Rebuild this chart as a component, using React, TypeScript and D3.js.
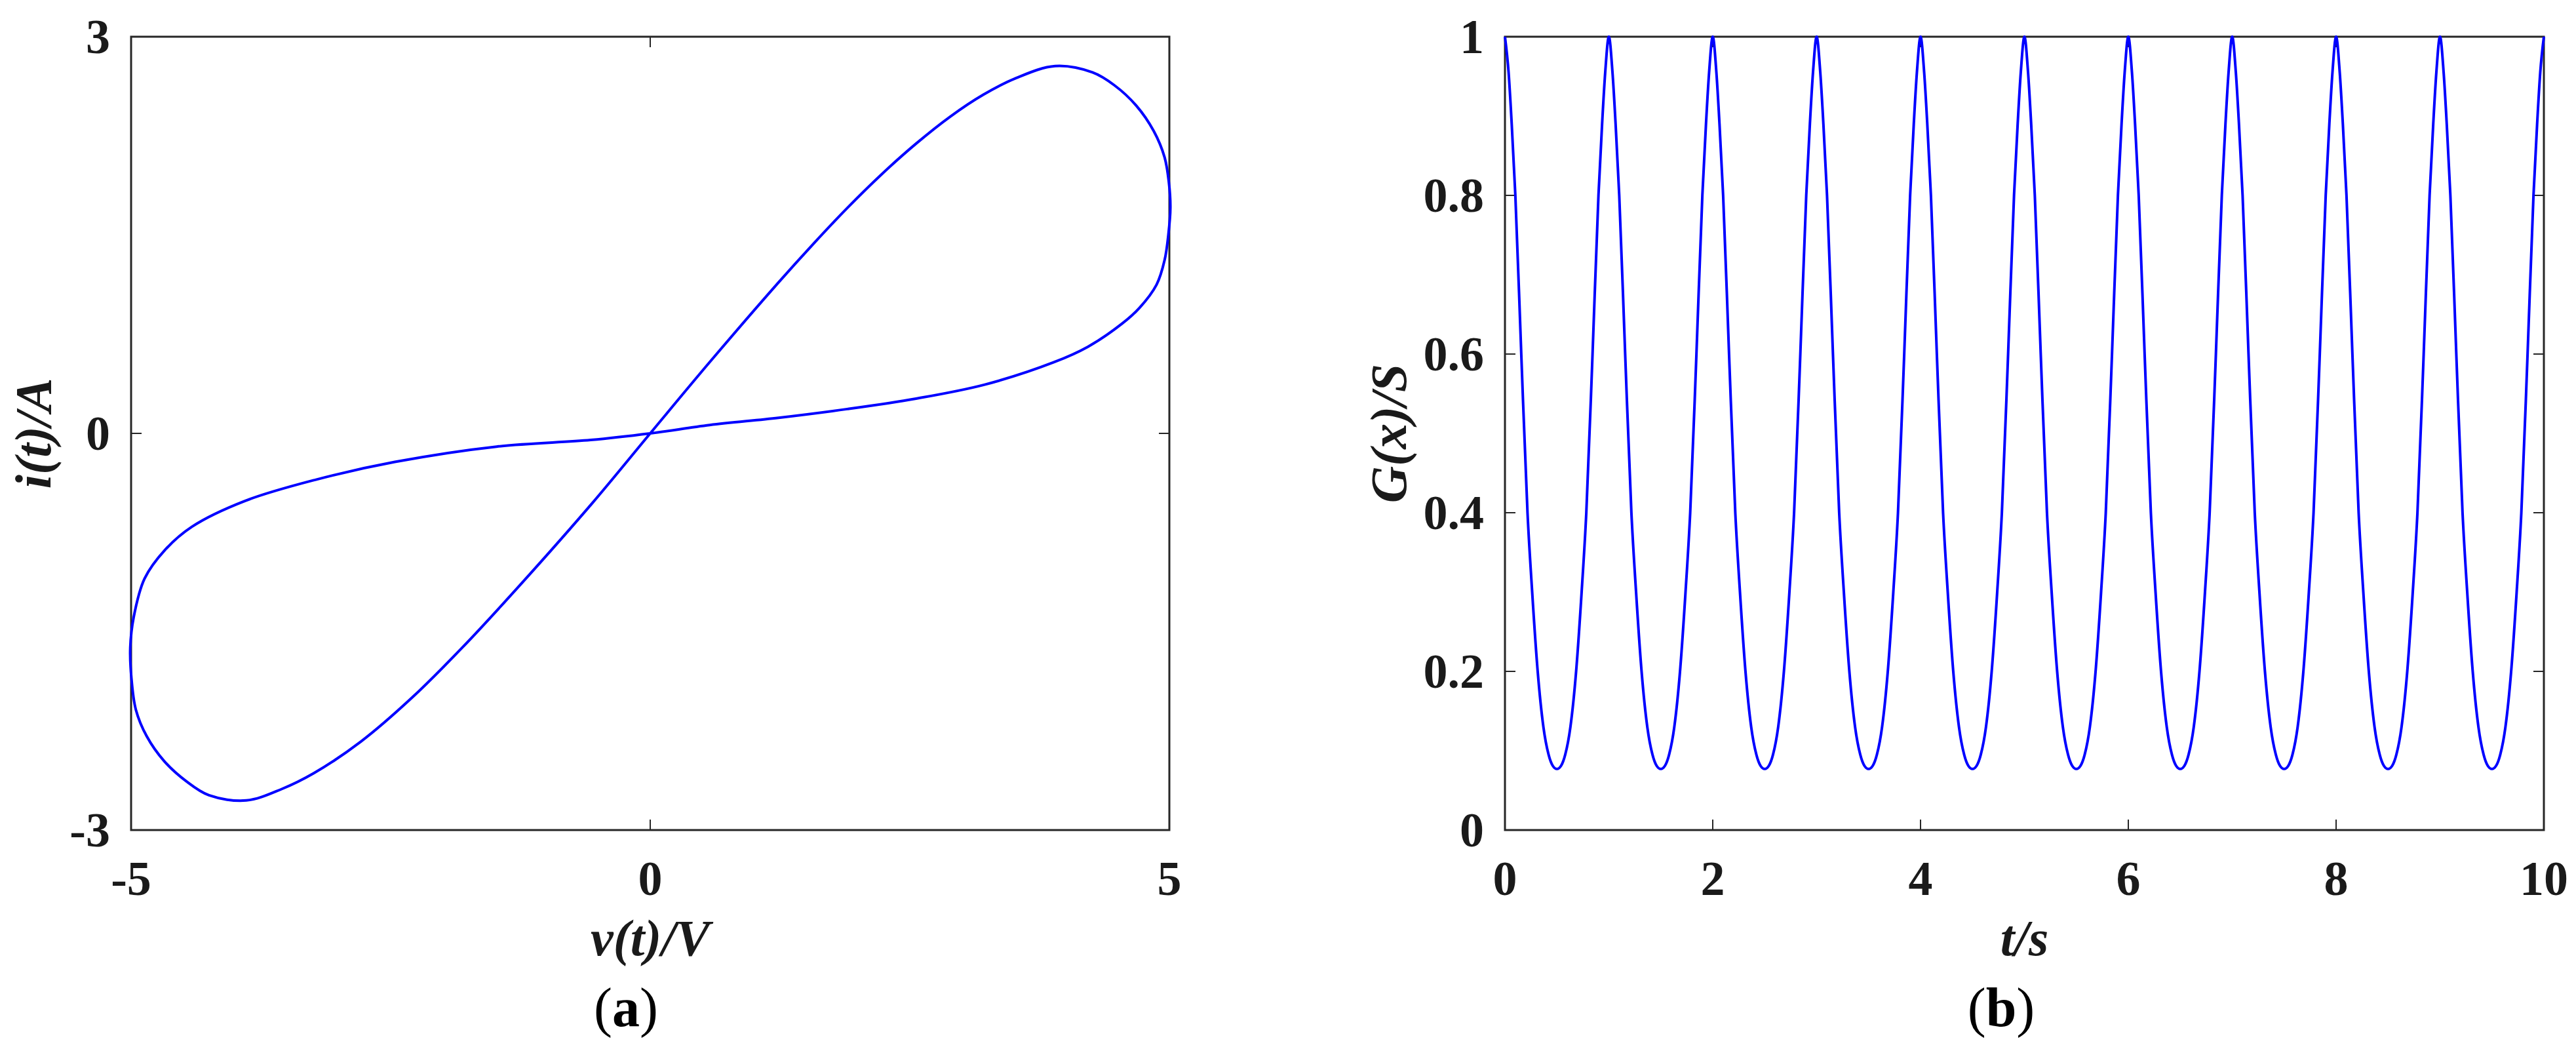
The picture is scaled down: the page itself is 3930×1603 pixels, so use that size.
import React from "react";
import * as d3 from "d3";

// (a) pinched hysteresis loop as [v, i]
// right lobe: up the steep branch, round the end, back on the shallow branch
const rightLobe: [number, number][] = [
  [0, 0], [0.573, 0.539], [1.235, 1.141], [1.566, 1.429], [1.897, 1.704], [2.228, 1.959],
  [2.56, 2.191], [2.89, 2.396], [3.207, 2.561], [3.523, 2.687], [3.9, 2.778], [4.26, 2.73],
  [4.47, 2.633], [4.68, 2.48], [4.85, 2.286], [4.954, 2.088], [4.995, 1.9], [5.01, 1.71],
  [4.99, 1.5], [4.954, 1.31], [4.877, 1.125], [4.712, 0.949], [4.546, 0.831], [4.215, 0.655],
  [3.884, 0.537], [3.222, 0.369], [2.56, 0.263], [1.897, 0.184], [1.235, 0.118],
  [0.573, 0.063],
];
// left lobe: out on the shallow branch, round the end, back on the steep branch
const leftLobe: [number, number][] = [
  [0, 0], [-0.573, -0.05], [-1.48, -0.1], [-2.46, -0.216], [-3.22, -0.35], [-3.9, -0.51],
  [-4.414, -0.706], [-4.674, -0.882], [-4.87, -1.098], [-4.975, -1.39], [-5.008, -1.62],
  [-4.998, -1.84], [-4.954, -2.09], [-4.85, -2.29], [-4.68, -2.48], [-4.47, -2.63],
  [-4.25, -2.737], [-3.89, -2.776], [-3.55, -2.69], [-3.24, -2.57], [-2.785, -2.33],
  [-2.296, -2.0], [-1.81, -1.62], [-1.24, -1.135], [-0.55, -0.52],
];

// (b) G(x): one cycle, repeated every second
const gCycleStarts = [0, 1, 2, 3, 4, 5, 6, 7, 8, 9];
const gShapeOffset = [0, 0.035, 0.065, 0.1, 0.157, 0.217, 0.262, 0.315, 0.37, 0.42, 0.46, 0.5,
  0.54, 0.58, 0.63, 0.685, 0.738, 0.783, 0.843, 0.9, 0.935, 0.965];
const gShapeValue = [1, 0.955, 0.89, 0.8, 0.6, 0.4, 0.3, 0.2, 0.13, 0.095, 0.081, 0.077,
  0.081, 0.095, 0.13, 0.2, 0.3, 0.4, 0.6, 0.8, 0.89, 0.955];
const gEnd: [number, number] = [10, 1];

const xTicksA = [-5, 0, 5];
const yTicksA = [-3, 0, 3];
const xTicksB = [0, 2, 4, 6, 8, 10];
const yTicksB = [0, 0.2, 0.4, 0.6, 0.8, 1];

const W = 3930;
const H = 1603;
const TOP = 56;
const BOTTOM = 1266;
const AXIS = "#262626";
const BLUE = "#0000ff";
const SERIF = "'Liberation Serif', 'Times New Roman', serif";

const gSeries: [number, number][] = [];
gCycleStarts.forEach((c) =>
  gShapeOffset.forEach((o, k) => gSeries.push([c + o, gShapeValue[k]]))
);
gSeries.push(gEnd);

type PanelProps = {
  x0: number;
  x1: number;
  xDomain: [number, number];
  yDomain: [number, number];
  xTicks: number[];
  yTicks: number[];
  xLabel: string;
  yLabel: string;
  yLabelX: number;
  caption: string;
  captionX: number;
  data: [number, number][];
  curve: d3.CurveFactory;
};

const Panel = (p: PanelProps) => {
  const x = d3.scaleLinear().domain(p.xDomain).range([p.x0, p.x1]);
  const y = d3.scaleLinear().domain(p.yDomain).range([BOTTOM, TOP]);
  const line = d3
    .line<[number, number]>()
    .x((d) => x(d[0]))
    .y((d) => y(d[1]))
    .curve(p.curve);
  const tl = 16;
  const cx = (p.x0 + p.x1) / 2;
  const cy = (TOP + BOTTOM) / 2;

  return (
    <g>
      {/* ticks on all four sides, pointing in */}
      {p.xTicks.map((t) => (
        <g key={"x" + t} stroke={AXIS} strokeWidth={2}>
          <line x1={x(t)} x2={x(t)} y1={BOTTOM} y2={BOTTOM - tl} />
          <line x1={x(t)} x2={x(t)} y1={TOP} y2={TOP + tl} />
        </g>
      ))}
      {p.yTicks.map((t) => (
        <g key={"y" + t} stroke={AXIS} strokeWidth={2}>
          <line x1={p.x0} x2={p.x0 + tl} y1={y(t)} y2={y(t)} />
          <line x1={p.x1} x2={p.x1 - tl} y1={y(t)} y2={y(t)} />
        </g>
      ))}
      <rect
        x={p.x0}
        y={TOP}
        width={p.x1 - p.x0}
        height={BOTTOM - TOP}
        fill="none"
        stroke={AXIS}
        strokeWidth={3}
      />
      <path d={line(p.data) || ""} fill="none" stroke={BLUE} strokeWidth={4} />

      <g fontFamily={SERIF} fontWeight="bold" fontSize={74} fill="#1a1a1a">
        {p.xTicks.map((t) => (
          <text key={"xl" + t} x={x(t)} y={BOTTOM + 99} textAnchor="middle">
            {String(t)}
          </text>
        ))}
        {p.yTicks.map((t) => (
          <text key={"yl" + t} x={p.x0 - 32} y={y(t) + 25} textAnchor="end">
            {String(t)}
          </text>
        ))}
      </g>

      <g fontFamily={SERIF} fontWeight="bold" fontStyle="italic" fontSize={78} fill="#1a1a1a">
        <text x={cx} y={1457} textAnchor="middle">
          {p.xLabel}
        </text>
        <text
          transform={`translate(${p.yLabelX},${cy}) rotate(-90)`}
          textAnchor="middle"
        >
          {p.yLabel}
        </text>
      </g>

      <text x={p.captionX} y={1565} textAnchor="middle" fontFamily={SERIF} fontSize={84} fill="#000">
        (<tspan fontWeight="bold">{p.caption}</tspan>)
      </text>
    </g>
  );
};

export default function App() {
  const loop = [...rightLobe, ...leftLobe];
  return (
    <svg
      width={W}
      height={H}
      style={{ position: "absolute", left: 0, top: 0, background: "#fff" }}
    >
      <rect width={W} height={H} fill="#fff" />
      <Panel
        x0={200}
        x1={1784}
        xDomain={[-5, 5]}
        yDomain={[-3, 3]}
        xTicks={xTicksA}
        yTicks={yTicksA}
        xLabel="v(t)/V"
        yLabel="i(t)/A"
        yLabelX={77}
        caption="a"
        captionX={955}
        data={loop}
        curve={d3.curveCatmullRomClosed.alpha(0.5)}
      />
      <Panel
        x0={2296}
        x1={3881}
        xDomain={[0, 10]}
        yDomain={[0, 1]}
        xTicks={xTicksB}
        yTicks={yTicksB}
        xLabel="t/s"
        yLabel="G(x)/S"
        yLabelX={2145}
        caption="b"
        captionX={3053}
        data={gSeries}
        curve={d3.curveMonotoneX}
      />
    </svg>
  );
}
